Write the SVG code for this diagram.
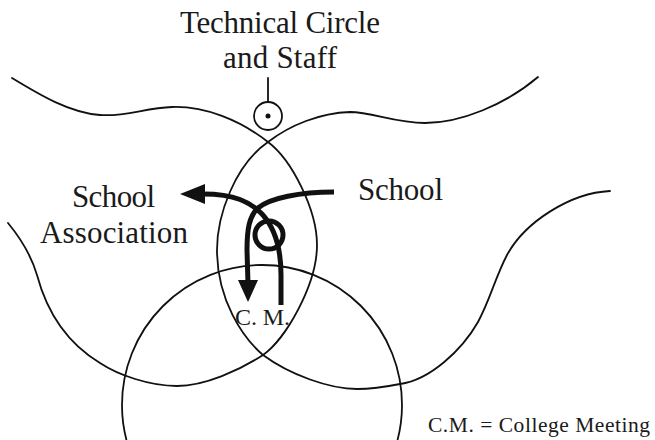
<svg xmlns="http://www.w3.org/2000/svg" width="655" height="440" viewBox="0 0 655 440">
  <style>
    .thin { fill: none; stroke: #111; stroke-width: 1.8; stroke-linecap: round; }
    .thick { fill: none; stroke: #111; stroke-width: 5; }
    .lbl { font-family: "Liberation Serif", "Times New Roman", serif; font-size: 31px; fill: #1a1a1a; }
    .small { font-size: 24px; }
    .legend { font-size: 21.5px; }
  </style>
  <rect width="655" height="440" fill="#ffffff"/>

  <g id="regions">
    <path id="left-region" class="thin" d="M 8,223 C 22,240 32,258 37,275 C 45,305 62,340 100,363 C 118,375 150,386 177,386 C 205,386 240,370 263,355 C 285,340 317,285 317,245 C 317,210 292,160 268,142 C 240,120 205,106 172,107 C 145,108 125,117 100,115 C 70,113 40,95 12,78"/>
    <path id="right-region" class="thin" d="M 610,191 C 570,193 525,222 507,255 C 495,278 490,300 478,322 C 462,350 430,380 400,384 C 385,387 370,389 357,389 C 330,389 290,375 263,355 C 243,338 217,300 217,250 C 217,215 235,165 268,142 C 290,125 320,113 350,112 C 372,112 395,123 425,123 C 460,123 505,105 538,77"/>
    <circle id="bottom-circle" class="thin" cx="262" cy="405" r="140"/>
  </g>

  <g id="technical-circle">
    <text class="lbl" x="180" y="33" textLength="200">Technical Circle</text>
    <text class="lbl" x="223" y="68" textLength="114">and Staff</text>
    <line class="thin" x1="268" y1="78" x2="268" y2="102"/>
    <circle class="thin" cx="268" cy="116" r="14"/>
    <circle cx="268" cy="116" r="2.5" fill="#111"/>
  </g>

  <g id="school">
    <text class="lbl" x="358" y="200" textLength="85">School</text>
  </g>

  <g id="school-association">
    <text class="lbl" x="72" y="207" textLength="83">School</text>
    <text class="lbl" x="40" y="243" textLength="148">Association</text>
  </g>

  <g id="college-meeting">
    <text class="lbl small" x="235" y="325" textLength="55">C. M.</text>
  </g>

  <g id="connectors">
    <path class="thick" d="M 334,192 C 300,192 270,198 258,208 C 249,216 247,230 247,250 L 248,284"/>
    <polygon points="238,280 258,280 248,302" fill="#111"/>
    <path class="thick" d="M 281,305 L 281,275 C 281,250 275,228 262,214 C 250,202 235,194 203,194"/>
    <polygon points="205,184 205,204 180,194" fill="#111"/>
    <circle class="thick" cx="269" cy="235" r="14" stroke-width="4.5"/>
  </g>

  <g id="legend">
    <text class="lbl legend" x="428" y="432" textLength="222">C.M. = College Meeting</text>
  </g>
</svg>
